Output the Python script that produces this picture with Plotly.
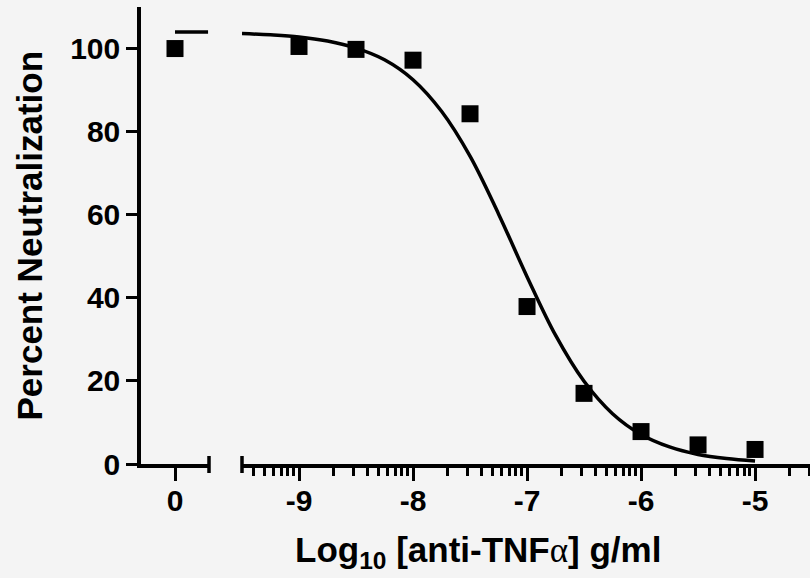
import numpy as np
import plotly.graph_objects as go

# ---------------- data ----------------
# segment 1 (zero-concentration control, plotted at "0")
ctrl_x = [0]
ctrl_y = [100.0]
ctrl_curve_x = [0.0, 0.29]
ctrl_curve_y = [104.0, 104.0]

# segment 2: log10 concentration
log_conc = [-9.0, -8.5, -8.0, -7.5, -7.0, -6.5, -6.0, -5.5, -5.0]
neutral = [100.5, 99.8, 97.2, 84.3, 37.9, 17.0, 7.8, 4.6, 3.5]

# fitted curve
curve_x = [-9.5, -9.25, -9.0, -8.75, -8.5, -8.25, -8.0, -7.75, -7.5, -7.25,
           -7.0, -6.75, -6.5, -6.25, -6.0, -5.75, -5.5, -5.25, -5.0]
curve_y = [103.6, 103.3, 102.8, 101.8, 100.1, 97.3, 92.5, 84.9, 74.1, 60.2,
           45.1, 31.0, 19.9, 12.1, 7.1, 4.1, 2.3, 1.3, 0.7]

major_ticks = [-9, -8, -7, -6, -5]
major_labels = ["-9", "-8", "-7", "-6", "-5"]
y_ticks = [0, 20, 40, 60, 80, 100]

x2_range = [-9.5, -4.518]
minor_ticks = [d + np.log10(k) for d in range(-10, -4) for k in range(2, 10)
               if x2_range[0] < d + np.log10(k) < x2_range[1]]

# ---------------- layout geometry ----------------
W, H = 810, 578
ML, MR, MT, MB = 141, 0, 7, 114
PW = W - ML - MR
seg1_dom = [0.0, (209 - ML) / PW]
seg2_dom = [(242 - ML) / PW, 1.0]

BG = "#f4f4f4"
FONT = "Arial, Liberation Sans, Helvetica, sans-serif"
LW = 3.5

fig = go.Figure()

fig.add_trace(go.Scatter(x=ctrl_curve_x, y=ctrl_curve_y, mode="lines",
                         line=dict(color="black", width=3.5), xaxis="x", yaxis="y",
                         showlegend=False, hoverinfo="skip"))
fig.add_trace(go.Scatter(x=ctrl_x, y=ctrl_y, mode="markers",
                         marker=dict(symbol="square", size=17, color="black"),
                         xaxis="x", yaxis="y", showlegend=False, cliponaxis=False))
fig.add_trace(go.Scatter(x=curve_x, y=curve_y, mode="lines",
                         line=dict(color="black", width=3.5, shape="spline", smoothing=1.0),
                         xaxis="x2", yaxis="y", showlegend=False, hoverinfo="skip"))
fig.add_trace(go.Scatter(x=log_conc, y=neutral, mode="markers",
                         marker=dict(symbol="square", size=17, color="black"),
                         xaxis="x2", yaxis="y", showlegend=False, cliponaxis=False))

tickfont = dict(family=FONT, size=30, color="black", weight="bold")

fig.update_layout(
    width=W, height=H,
    margin=dict(l=ML, r=MR, t=MT, b=MB, pad=0),
    paper_bgcolor=BG, plot_bgcolor=BG,
    showlegend=False,
    xaxis=dict(domain=seg1_dom, range=[-(175 - ML) / 114, (209 - 175) / 114],
               tickmode="array", tickvals=[0], ticktext=["0"],
               showline=True, linecolor="black", linewidth=LW,
               ticks="outside", ticklen=13, tickwidth=3, tickcolor="black",
               ticklabelstandoff=-6,
               showgrid=False, zeroline=False, tickfont=tickfont, anchor="y",
               fixedrange=True),
    xaxis2=dict(domain=seg2_dom, range=x2_range,
                tickmode="array", tickvals=major_ticks, ticktext=major_labels,
                showline=True, linecolor="black", linewidth=LW,
                ticks="outside", ticklen=13, tickwidth=3, tickcolor="black",
                ticklabelstandoff=-6,
                minor=dict(tickmode="array", tickvals=minor_ticks, ticks="outside",
                           ticklen=8, tickwidth=3, tickcolor="black", showgrid=False),
                showgrid=False, zeroline=False, tickfont=tickfont, anchor="y",
                fixedrange=True),
    yaxis=dict(range=[0, 110], tickmode="array", tickvals=y_ticks,
               ticktext=[str(v) for v in y_ticks],
               showline=True, linecolor="black", linewidth=LW,
               ticks="outside", ticklen=11, tickwidth=3, tickcolor="black",
               showgrid=False, zeroline=False, tickfont=tickfont, anchor="x",
               fixedrange=True),
)

# axis break caps
for xp in (seg1_dom[1], seg2_dom[0]):
    fig.add_shape(type="line", xref="paper", yref="paper",
                  x0=xp, x1=xp, ysizemode="pixel", yanchor=0, y0=-9, y1=8,
                  line=dict(color="black", width=LW), layer="above")

# axis titles
fig.add_annotation(text="Percent Neutralization", textangle=-90,
                   xref="paper", yref="paper", x=(29 - ML) / PW, y=0.5,
                   xanchor="center", yanchor="middle", showarrow=False,
                   font=dict(family=FONT, size=35, color="black", weight="bold"))
fig.add_annotation(text="Log<sub>10</sub> [anti-TNF<span style=\"font-family:'Liberation Serif';font-weight:normal\">α</span>] g/ml",
                   xref="paper", yref="paper", x=(478 - ML) / PW,
                   y=-(552 - (H - MB)) / (H - MT - MB),
                   xanchor="center", yanchor="middle", showarrow=False,
                   font=dict(family=FONT, size=35, color="black", weight="bold"))

fig.write_html("out.html")
